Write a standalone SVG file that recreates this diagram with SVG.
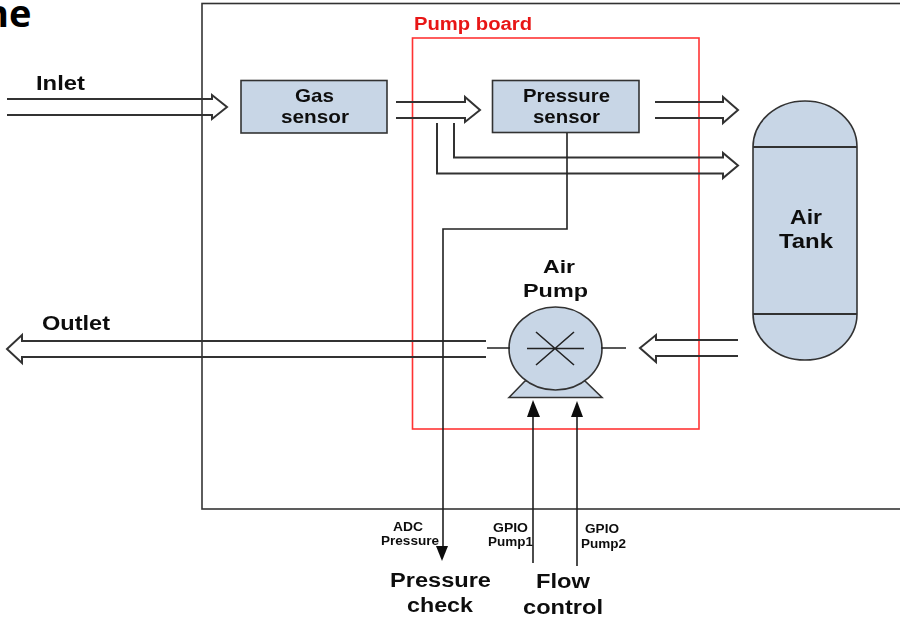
<svg xmlns="http://www.w3.org/2000/svg" width="900" height="619" viewBox="0 0 900 619">
<style>
.t{font-family:"Liberation Sans",Arial,sans-serif;font-weight:700;fill:#111;text-anchor:middle}
.b{font-size:19px}
.s{font-family:"Liberation Sans",Arial,sans-serif;font-weight:700;font-size:12.500px;fill:#111;text-anchor:middle}
.n{fill:#c8d6e6;stroke:#333;stroke-width:1.600}
.l{fill:none;stroke:#333;stroke-width:2;stroke-linejoin:miter}
.k{fill:none;stroke:#222;stroke-width:1.600}
.f{fill:#111}
</style>
<defs><filter id="soft" x="0" y="0" width="900" height="619" filterUnits="userSpaceOnUse"><feGaussianBlur stdDeviation="0.350"/></filter></defs>
<rect width="900" height="619" fill="#fff"/>
<text x="-16" y="27" font-family="'Open Sans',sans-serif" font-weight="700" font-size="38" fill="#000">ne</text>
<g filter="url(#soft)">
<rect id="system-box" x="202" y="3.500" width="710" height="505.500" fill="none" stroke="#333" stroke-width="1.600"/>
<g id="pump-board"><rect x="412.500" y="38" width="286.500" height="391" fill="none" stroke="#f33" stroke-width="1.600"/>
<text x="473" y="29.500" class="t" font-size="18" textLength="118" lengthAdjust="spacingAndGlyphs" style="fill:#e81818">Pump board</text></g>
<g id="gas-sensor"><rect class="n" x="241" y="80.500" width="146" height="52.500"/>
<text class="t b" x="314.500" y="102" textLength="39" lengthAdjust="spacingAndGlyphs">Gas</text><text class="t b" x="315" y="123" textLength="68" lengthAdjust="spacingAndGlyphs">sensor</text></g>
<g id="pressure-sensor"><rect class="n" x="492.500" y="80.500" width="146.500" height="52"/>
<text class="t b" x="566.500" y="102" textLength="87" lengthAdjust="spacingAndGlyphs">Pressure</text><text class="t b" x="566.500" y="123" textLength="67" lengthAdjust="spacingAndGlyphs">sensor</text></g>
<g id="air-tank"><path class="n" d="M753 147A52 46 0 0 1 857 147V314A52 46 0 0 1 753 314Z"/>
<path class="l" d="M753 147H857M753 314H857"/>
<text class="t" font-size="21" x="806" y="224" textLength="32" lengthAdjust="spacingAndGlyphs">Air</text><text class="t" font-size="21" x="806" y="248" textLength="54" lengthAdjust="spacingAndGlyphs">Tank</text></g>
<g id="air-pump"><path class="n" d="M509 397.500L525 381H585L602 397.500Z"/>
<ellipse class="n" cx="555.500" cy="348.500" rx="46.500" ry="41.500"/>
<path class="k" d="M527 348.500H584M536 332L574 365M574 332L536 365"/>
<text class="t b" x="559" y="273" textLength="32" lengthAdjust="spacingAndGlyphs">Air</text><text class="t b" x="555.500" y="297" textLength="65" lengthAdjust="spacingAndGlyphs">Pump</text></g>
<g id="connectors">
<path class="l" d="M7 99H212V95L227 107L212 119V115H7"/>
<path class="l" d="M396 102H465V97L480 110L465 122V118H396"/>
<path class="l" d="M655 102H723V97L738 110L723 123V118H655"/>
<path class="l" d="M454 123V157.500H723V153L738 165.500L723 178V173.500H437V123"/>
<path class="l" d="M486 341H22V335L7 349L22 363V357H486"/>
<path class="l" d="M738 340H656V335L640 348L656 362V356H738"/>
<path class="k" d="M487 348H510M601 348H626"/>
<path class="k" d="M567 133V229H443V548"/><path class="f" d="M436 546H448L442 561Z"/>
<path class="k" d="M533 563V416M577 566V416"/><path class="f" d="M527 417L533 400L540 417ZM571 417L577 401L583 417Z"/>
</g>
<g id="labels">
<text class="t" font-size="20" x="60.500" y="90" textLength="49" lengthAdjust="spacingAndGlyphs">Inlet</text>
<text class="t" font-size="20" x="76" y="330" textLength="68" lengthAdjust="spacingAndGlyphs">Outlet</text>
<text class="s" x="408" y="531" textLength="30" lengthAdjust="spacingAndGlyphs">ADC</text><text class="s" x="410" y="545" textLength="58" lengthAdjust="spacingAndGlyphs">Pressure</text>
<text class="s" x="510.500" y="532" textLength="35" lengthAdjust="spacingAndGlyphs">GPIO</text><text class="s" x="510.500" y="546" textLength="45" lengthAdjust="spacingAndGlyphs">Pump1</text>
<text class="s" x="602" y="533" textLength="34" lengthAdjust="spacingAndGlyphs">GPIO</text><text class="s" x="603.500" y="548" textLength="45" lengthAdjust="spacingAndGlyphs">Pump2</text>
<text class="t" font-size="20" x="440.500" y="587" textLength="101" lengthAdjust="spacingAndGlyphs">Pressure</text><text class="t" font-size="20" x="440" y="612" textLength="66" lengthAdjust="spacingAndGlyphs">check</text>
<text class="t" font-size="20" x="563" y="588" textLength="54" lengthAdjust="spacingAndGlyphs">Flow</text><text class="t" font-size="20" x="563" y="614" textLength="80" lengthAdjust="spacingAndGlyphs">control</text>
</g>
</g>
</svg>
